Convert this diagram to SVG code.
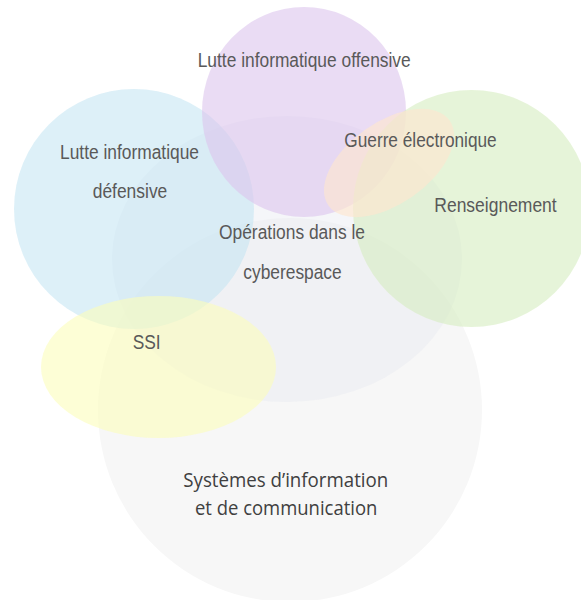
<svg xmlns="http://www.w3.org/2000/svg" width="581" height="600" viewBox="0 0 581 600">
<style>
.lbl{font-family:"Liberation Sans",Arial,sans-serif;font-size:20px;fill:#595959}
.cal{font-family:"Open Sans","Noto Sans",sans-serif;font-size:20px;fill:#404040}
</style>
<rect width="581" height="600" fill="#ffffff"/>
<g id="sic">
<circle cx="290" cy="410" r="192" fill="#f7f7f7"/>
</g>
<g id="operations">
<ellipse cx="287" cy="259" rx="175" ry="143" fill="#e4e7ee" fill-opacity="0.38"/>
</g>
<g id="lid">
<circle cx="134" cy="209" r="120" fill="rgb(195,229,243)" fill-opacity="0.57"/>
</g>
<g id="lio">
<ellipse cx="304" cy="112" rx="102" ry="105" fill="rgb(220,197,237)" fill-opacity="0.6"/>
</g>
<g id="renseignement">
<circle cx="471.5" cy="208.5" r="118.5" fill="rgb(213,237,192)" fill-opacity="0.6"/>
</g>
<g id="guerre">
<ellipse cx="389" cy="163" rx="74" ry="41" transform="rotate(-35 389 163)" fill="rgb(253,230,208)" fill-opacity="0.65"/>
</g>
<g id="ssi">
<ellipse cx="158.5" cy="367" rx="117.5" ry="71" fill="rgb(252,253,187)" fill-opacity="0.6"/>
</g>
<g id="connectors"></g>
<g id="labels">
<text class="lbl" x="197.7" y="66.7" textLength="213" lengthAdjust="spacingAndGlyphs">Lutte informatique offensive</text>
<text class="lbl" x="60" y="159.3" textLength="139" lengthAdjust="spacingAndGlyphs">Lutte informatique</text>
<text class="lbl" x="92.7" y="198" textLength="74.6" lengthAdjust="spacingAndGlyphs">défensive</text>
<text class="lbl" x="219" y="239.3" textLength="146" lengthAdjust="spacingAndGlyphs">Opérations dans le</text>
<text class="lbl" x="243.3" y="279" textLength="98.4" lengthAdjust="spacingAndGlyphs">cyberespace</text>
<text class="lbl" x="344.3" y="146.7" textLength="152.4" lengthAdjust="spacingAndGlyphs">Guerre électronique</text>
<text class="lbl" x="434.3" y="211.7" textLength="122.4" lengthAdjust="spacingAndGlyphs">Renseignement</text>
<text class="lbl" x="132.7" y="349" textLength="28" lengthAdjust="spacingAndGlyphs">SSI</text>
<text class="cal" x="183.3" y="486.7" textLength="205" lengthAdjust="spacingAndGlyphs">Systèmes d’information</text>
<text class="cal" x="195" y="515" textLength="182.3" lengthAdjust="spacingAndGlyphs">et de communication</text>
</g>
</svg>
